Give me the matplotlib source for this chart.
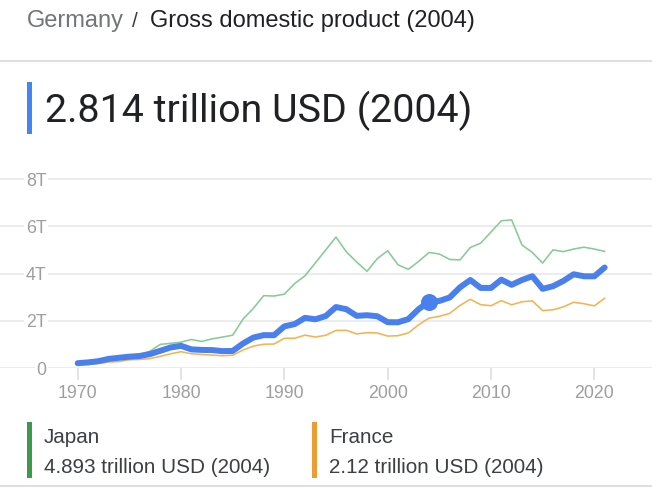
import matplotlib
matplotlib.use("Agg")
import matplotlib.pyplot as plt
from matplotlib.patches import Rectangle
from matplotlib.lines import Line2D

# ---------------- data (trillion USD) ----------------
years = list(range(1970, 2022))
germany = [0.216, 0.250, 0.300, 0.398, 0.445, 0.491, 0.520, 0.601, 0.741, 0.882,
           0.950, 0.800, 0.777, 0.770, 0.726, 0.733, 1.047, 1.298, 1.401, 1.398,
           1.772, 1.868, 2.131, 2.071, 2.206, 2.589, 2.497, 2.217, 2.243, 2.199,
           1.948, 1.945, 2.078, 2.501, 2.814, 2.846, 2.993, 3.421, 3.731, 3.398,
           3.396, 3.744, 3.527, 3.733, 3.890, 3.358, 3.469, 3.691, 3.974, 3.889,
           3.887, 4.260]
japan = [0.213, 0.240, 0.318, 0.433, 0.480, 0.522, 0.586, 0.722, 1.013, 1.055,
         1.105, 1.218, 1.135, 1.244, 1.318, 1.399, 2.079, 2.532, 3.071, 3.054,
         3.133, 3.584, 3.909, 4.455, 4.999, 5.546, 4.923, 4.492, 4.098, 4.636,
         4.968, 4.375, 4.182, 4.519, 4.893, 4.831, 4.601, 4.580, 5.106, 5.289,
         5.759, 6.234, 6.272, 5.212, 4.897, 4.445, 5.004, 4.931, 5.041, 5.118,
         5.040, 4.941]
france = [0.149, 0.165, 0.203, 0.264, 0.286, 0.360, 0.373, 0.411, 0.507, 0.614,
          0.701, 0.615, 0.585, 0.559, 0.531, 0.553, 0.772, 0.935, 1.019, 1.026,
          1.269, 1.269, 1.402, 1.322, 1.394, 1.601, 1.605, 1.452, 1.503, 1.493,
          1.362, 1.377, 1.494, 1.840, 2.120, 2.196, 2.319, 2.657, 2.918, 2.690,
          2.643, 2.861, 2.684, 2.811, 2.852, 2.439, 2.471, 2.596, 2.790, 2.729,
          2.639, 2.958]
highlight_year = 2004
highlight_value = 2.814

x_ticks = [1970, 1980, 1990, 2000, 2010, 2020]
y_ticks = [0, 2, 4, 6, 8]
y_tick_labels = ["0", "2T", "4T", "6T", "8T"]

breadcrumb_country = "Germany"
breadcrumb_metric = "Gross domestic product (2004)"
headline = "2.814 trillion USD (2004)"
legend_names = ["Japan", "France"]
legend_values = ["4.893 trillion USD (2004)", "2.12 trillion USD (2004)"]

# ---------------- style ----------------
BLUE = "#4a80ee"
GREEN_LINE = "#86cc96"
ORANGE_LINE = "#f5b350"
GREEN_BAR = "#3e9a4b"
ORANGE_BAR = "#eb9c33"
GRID = "#e6e6e6"
TICK_TXT = "#9e9e9e"
DARK = "#202124"

W, H = 652, 500
DPI = 100
fig = plt.figure(figsize=(W / DPI, H / DPI), dpi=DPI)
fig.patch.set_facecolor("white")

def px2pt(p):
    return p * 72.0 / DPI

def fx(px):
    return px / W

def fy(py):
    return 1 - py / H

SANS = ["Liberation Sans", "DejaVu Sans"]

# ---------------- header ----------------
fig.text(fx(27), fy(26.7), breadcrumb_country, fontsize=17, color="#70757a",
         family=SANS, va="baseline", ha="left")
fig.text(fx(132), fy(26.7), "/", fontsize=15, color="#3c4043",
         family=SANS, va="baseline", ha="left")
fig.text(fx(150), fy(26.7), breadcrumb_metric, fontsize=17, color=DARK,
         family=SANS, va="baseline", ha="left")

fig.add_artist(Line2D([0, 1], [fy(60.7), fy(60.7)], color="#d3d5d8",
                      lw=px2pt(1.5), transform=fig.transFigure))

fig.add_artist(Rectangle((fx(27.3), fy(134.3)), fx(4.4), (134.3 - 81.7) / H,
                         transform=fig.transFigure, color="#4285f4", lw=0))
fig.text(fx(45), fy(122.3), headline, fontsize=28.4, color=DARK,
         family=["Roboto", "DejaVu Sans"], va="baseline", ha="left")

# ---------------- chart ----------------
y0_px, y8_px = 368.3, 179.0
per_t = (y0_px - y8_px) / 8.0
top_px = 168.0
x1970_px, per_year = 77.7, (594.3 - 77.7) / 50.0

ax = fig.add_axes([0, 1 - y0_px / H, 1, (y0_px - top_px) / H])
ax.set_xlim(1970 - x1970_px / per_year, 1970 + (W - x1970_px) / per_year)
ax.set_ylim(0, (y0_px - top_px) / per_t)
for s in ax.spines.values():
    s.set_visible(False)
ax.set_facecolor("none")

ax.plot(years, japan, color=GREEN_LINE, lw=px2pt(1.6), zorder=2,
        solid_joinstyle="round")
ax.plot(years, france, color=ORANGE_LINE, lw=px2pt(1.6), zorder=2,
        solid_joinstyle="round")
ax.plot(years, germany, color=BLUE, lw=px2pt(6), zorder=3,
        solid_joinstyle="round", solid_capstyle="round")
ax.plot([highlight_year], [highlight_value], "o", color=BLUE,
        markersize=px2pt(17), zorder=4, markeredgewidth=0)

ax.set_yticks(y_ticks)
ax.set_yticklabels(y_tick_labels)
ax.grid(axis="y", color=GRID, lw=px2pt(1.5), zorder=0)
ax.tick_params(axis="y", length=0, pad=-px2pt(46.7), labelsize=12.8,
               labelcolor=TICK_TXT)
for lbl in ax.get_yticklabels():
    lbl.set_family(SANS)
    lbl.set_bbox(dict(facecolor="white", edgecolor="none", pad=1.2))

ax.set_xticks(x_ticks)
ax.set_xticklabels([str(v) for v in x_ticks])
ax.tick_params(axis="x", length=px2pt(12), width=px2pt(1.5), color="#dcdcdc",
               pad=3.2, labelsize=12.8, labelcolor=TICK_TXT)
for lbl in ax.get_xticklabels():
    lbl.set_family(SANS)

# ---------------- legend ----------------
legend_x = [27.3, 312.3]
bar_colors = [GREEN_BAR, ORANGE_BAR]
for lx, name, val, c in zip(legend_x, legend_names, legend_values, bar_colors):
    fig.add_artist(Rectangle((fx(lx), fy(477.7)), fx(4.4), (477.7 - 421.7) / H,
                             transform=fig.transFigure, color=c, lw=0))
    fig.text(fx(lx + 16.7), fy(443.3), name, fontsize=14.9, color="#3c4043",
             family=SANS, va="baseline", ha="left")
    fig.text(fx(lx + 16.7), fy(473.3), val, fontsize=14.9, color="#3c4043",
             family=SANS, va="baseline", ha="left")

fig.add_artist(Line2D([0, 1], [fy(486), fy(486)], color="#d3d5d8",
                      lw=px2pt(1.5), transform=fig.transFigure))

fig.savefig("out.png", dpi=DPI, facecolor="white")
